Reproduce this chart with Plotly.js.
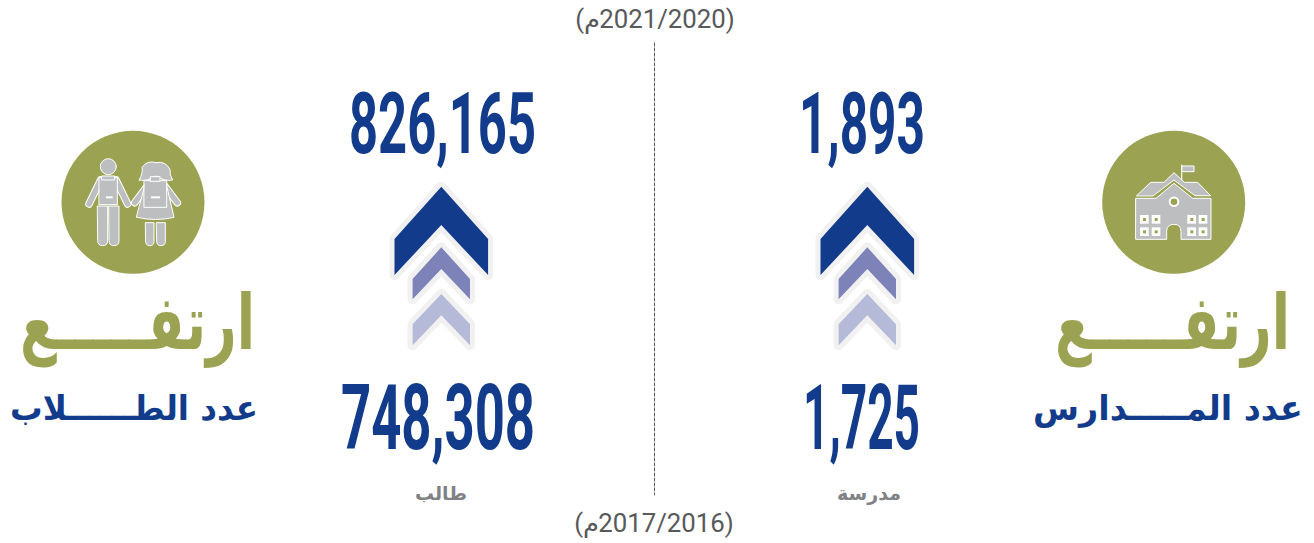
<!DOCTYPE html>
<html><head><meta charset="utf-8">
<script src="https://cdn.plot.ly/plotly-3.0.1.min.js"></script>
<style>html,body{margin:0;padding:0;background:#fff}#c{width:1314px;height:543px}</style>
</head><body><div id="c"></div>
<script>
// ---- data ----
const schoolValues = [1893, 1725];
const studentValues = [826165, 748308];
const periods = ["(م\u200E2021/2020)", "(م\u200E2017/2016)"];
const riseWord = "ارتفـــــع";
const schoolTitle = "عدد المـــــدارس";
const studentTitle = "عدد الطــــــلاب";
const schoolUnit = "مدرسة";
const studentUnit = "طالب";

// ---- palette ----
const NAVY="#123c8b", MID="#7d83b8", PALE="#b5bad9", HALO="#f1f1f2", OLIVE="#9ba353", GREY="#bcbec0";
const fmt = v => v.toLocaleString("en-US");

// ---- helpers: all geometry lives in the pixel-ranged axes ----
function tf(path, ox, oy, k){
  return path.replace(/(-?[\d.]+)\s+(-?[\d.]+)/g,(m,a,b)=>((+a)/k+ox).toFixed(2)+" "+((+b)/k+oy).toFixed(2));
}
const shape=(path,fill,line,lw)=>({type:"path",xref:"x",yref:"y",path,fillcolor:fill,
  line:{color:line||"rgba(0,0,0,0)",width:lw||0},layer:"above"});
const circle=(cx,cy,r,fill,line,lw)=>({type:"circle",xref:"x",yref:"y",x0:cx-r,x1:cx+r,y0:cy-r,y1:cy+r,
  fillcolor:fill,line:{color:line||"rgba(0,0,0,0)",width:lw||0},layer:"above"});

const shapes=[];
// divider
shapes.push({type:"line",xref:"x",yref:"y",x0:654.5,x1:654.5,y0:43,y1:495,line:{color:"#58595b",width:1,dash:"3px,2px"}});

// chevrons
function chevrons(dx){
  const C=867.3+dx;
  const c=(hw,top,sh,bot,inn)=>`M ${C} ${top} L ${C+hw} ${sh} L ${C+hw} ${bot} L ${C} ${inn} L ${C-hw} ${bot} L ${C-hw} ${sh} Z`;
  const defs=[[46.8,186.7,239,275,225,NAVY],[28.7,247.3,279,299.3,269,MID],[28.7,294,324.3,345.3,315.3,PALE]];
  defs.forEach(d=>shapes.push(shape(c(d[0],d[1],d[2],d[3],d[4]),HALO,HALO,10)));
  defs.forEach(d=>shapes.push(shape(c(d[0],d[1],d[2],d[3],d[4]),d[5])));
}
chevrons(0); chevrons(-426);

// circles
shapes.push(circle(133,202.3,71.5,OLIVE));
shapes.push(circle(1173.7,202.3,71.5,OLIVE));

// kids icon (drawn in 3x crop space with origin 60,130)
function kid(p,fill,lw){shapes.push(shape(tf(p,60,130,3),fill,"#ffffff",lw===undefined?1:lw));}
function kidArm(p){ // capsule
  shapes.push({type:"path",xref:"x",yref:"y",path:tf(p,60,130,3),fillcolor:"rgba(0,0,0,0)",line:{color:"#ffffff",width:7.5},layer:"above"});
  shapes.push({type:"path",xref:"x",yref:"y",path:tf(p,60,130,3),fillcolor:"rgba(0,0,0,0)",line:{color:GREY,width:5.5},layer:"above"});
}
kidArm("M 122 150 L 87 222"); kidArm("M 168 150 L 203 222");
kidArm("M 268 160 L 224 218"); kidArm("M 308 160 L 352 218");
shapes.push(circle(108.3,166.7,8,GREY,"#fff",1));
kid("M 118 142 L 172 142 L 172 224 L 118 224 Z",GREY);
kid("M 126 138 L 164 138 L 164 150 L 126 150 Z",GREY);
kid("M 113 228 L 143 228 L 143 332 Q 143 347 128 347 Q 113 347 113 332 Z",GREY);
kid("M 147 228 L 177 228 L 177 332 Q 177 347 162 347 Q 147 347 147 332 Z",GREY);
kid("M 138 199 L 158 199 L 158 205 L 138 205 Z","#ffffff",0);
// girl
kid("M 238 150 Q 250 125 246 112 Q 262 90 288 98 Q 316 92 330 118 Q 328 135 338 150 Q 315 155 288 138 Q 262 155 238 150 Z",GREY);
kid("M 258 158 L 318 158 L 342 262 Q 288 275 230 262 Z",GREY);
kid("M 257 278 L 282 278 L 282 334 Q 282 347 269 347 Q 257 347 257 334 Z",GREY);
kid("M 290 278 L 316 278 L 316 334 Q 316 347 303 347 Q 290 347 290 334 Z",GREY);
kid("M 253 152 L 320 152 L 320 232 L 253 232 Z",GREY);
kid("M 272 140 L 300 140 L 300 154 L 272 154 Z",GREY);
kid("M 273 199 L 300 199 L 300 205 L 273 205 Z","#ffffff",0);

// school icon (3x crop space with origin 1100,130)
function sc(p,fill,lw){shapes.push(shape(tf(p,1100,130,3),fill,"#ffffff",lw===undefined?1:lw));}
sc("M 245 150 L 245 105","rgba(0,0,0,0)",1.2);
sc("M 247 108 L 282 108 L 282 125 L 247 125 Z",GREY);
sc("M 110 197 L 152 157 L 192 157 L 222 128 L 253 157 L 293 157 L 332 197 L 285 197 L 222 150 L 160 197 Z",GREY);
sc("M 108 205 L 168 205 L 222 160 L 278 205 L 333 205 L 333 328 L 243 328 L 243 305 Q 243 283 222 283 Q 200 283 200 305 L 200 328 L 108 328 Z",GREY);
shapes.push(circle(1174,201.7,4.3,OLIVE,"#fff",2));
[120,155,262,296].forEach(x=>[255,292].forEach(y=>{
  shapes.push(shape(tf(`M ${x} ${y} L ${x+26} ${y} L ${x+26} ${y+26} L ${x} ${y+26} Z`,1100,130,3),"#ffffff"));
  shapes.push(shape(tf(`M ${x+9} ${y+9} L ${x+18} ${y+9} L ${x+18} ${y+18} L ${x+9} ${y+18} Z`,1100,130,3),OLIVE));
}));

// ---- traces ----
const AR="'DejaVu Sans'";
function txt(x,y,t,size,color,family,weight,name){
  return {type:"scatter",mode:"text",x:[x],y:[y],text:[t],name:name||t,hoverinfo:"skip",showlegend:false,
    textposition:"middle center",textfont:{size,color,family,weight:weight||400},cliponaxis:false};
}
const NUM="'Liberation Sans Narrow','Roboto'";
const traces=[
  txt(442.5,132,fmt(studentValues[0]),86,NAVY,NUM,700),
  txt(862,132,fmt(schoolValues[0]),86,NAVY,NUM,700),
  txt(438,426,fmt(studentValues[1]),91,NAVY,NUM,700),
  txt(861.5,426,fmt(schoolValues[1]),91,NAVY,NUM,700),
  txt(655,22,periods[0],25,"#58595b","Roboto"),
  txt(654,526,periods[1],25,"#58595b","Roboto"),
  txt(137.5,330,riseWord,76,OLIVE,AR,700),
  txt(1172.5,330,riseWord,76,OLIVE,AR,700),
  txt(134,412,studentTitle,34,NAVY,AR,700),
  txt(1168,412,schoolTitle,34,NAVY,AR,700),
  txt(441,495,studentUnit,19,"#808285",AR,700),
  txt(869,495,schoolUnit,19,"#808285",AR,700)
];
// target widths for the text runs that the reference sets in condensed type
const fit=[187,126,194,117,160,160,235,235,248,270,52,64];

const layout={width:1314,height:543,margin:{l:0,r:0,t:0,b:0},paper_bgcolor:"#fff",plot_bgcolor:"#fff",showlegend:false,
  xaxis:{range:[0,1314],visible:false,fixedrange:true},
  yaxis:{range:[543,0],visible:false,fixedrange:true},shapes};
Plotly.newPlot("c",traces,layout,{staticPlot:true,displayModeBar:false}).then(()=>{
  document.querySelectorAll(".shapelayer path").forEach(p=>{p.style.strokeLinejoin="round";p.style.strokeLinecap="round";});
  const els=[...document.querySelectorAll(".textpoint text")];
  els.forEach((el,i)=>{
    if(i>=fit.length) return;
    const cx=+el.getAttribute("x"), w=el.getBBox().width, s=fit[i]/w;
    el.setAttribute("transform",`translate(${cx},0) scale(${s},1) translate(${-cx},0)`);
  });
});
</script></body></html>
